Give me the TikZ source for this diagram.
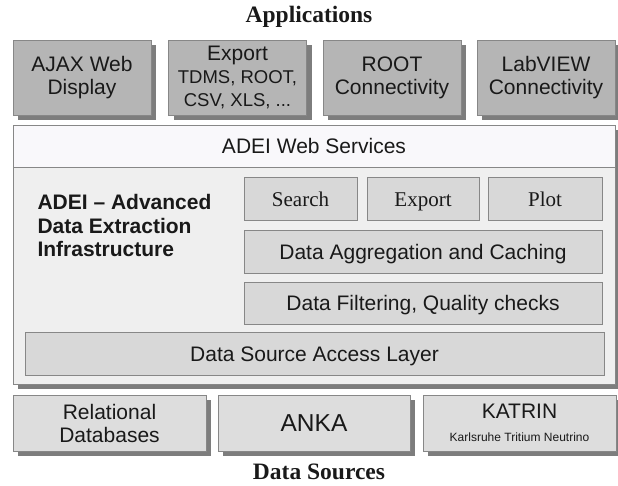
\documentclass[tikz,border=0pt]{standalone}
\usepackage{fontspec}
\setmainfont{Liberation Serif}
\setsansfont{Liberation Sans}
\usetikzlibrary{shadows}

\definecolor{appfill}{RGB}{181,181,181}
\definecolor{srcfill}{RGB}{221,221,221}
\definecolor{modfill}{RGB}{216,216,216}
\definecolor{panelfill}{RGB}{239,239,239}
\definecolor{bandfill}{RGB}{249,248,251}
\definecolor{boxedge}{RGB}{135,135,135}
\definecolor{shadowgray}{RGB}{125,125,125}
\definecolor{inkblack}{RGB}{25,25,25}

\tikzset{
    box/.style={draw=boxedge, inner sep=0pt, align=center, text=inkblack,
        font=\sffamily\fontsize{21}{23}\selectfont},
    shade5/.style={general shadow={fill=shadowgray, shadow xshift=5pt, shadow yshift=-5pt}},
    appbox/.style={box, shade5, fill=appfill, minimum width=138pt, minimum height=75pt},
    srcbox/.style={box, shade5, fill=srcfill, minimum width=193pt, minimum height=56pt},
    modbox/.style={box, fill=modfill, minimum height=43pt, text height=15pt, text depth=0pt},
    title/.style={inner sep=0pt, text=inkblack, font=\bfseries\fontsize{23.5}{26}\selectfont}
}

\begin{document}
\begin{tikzpicture}[x=1pt, y=-1pt]
    \useasboundingbox (0,0) rectangle (618,485);

    \node[title] (apps) at (309,17) {Applications};
    \node[appbox] (ajax) at (82,77.5) {AJAX Web\\Display};
    \node[appbox] (export) at (237.5,77.5) {Export\\{\fontsize{18.5}{21}\selectfont TDMS, ROOT,}\\{\fontsize{18.5}{21}\selectfont CSV, XLS, ...}};
    \node[appbox] (root) at (392,77.5) {ROOT\\Connectivity};
    \node[appbox] (labview) at (546,77.5) {LabVIEW\\Connectivity};

    \node[box, shade5, fill=panelfill, minimum width=602pt, minimum height=259pt] (adei) at (314,254.5) {};
    \node[box, fill=bandfill, minimum width=602pt, minimum height=42pt, text height=15pt, text depth=0pt] (websvc) at (314,146) {ADEI Web Services};
    \node[anchor=west, align=left, text=inkblack, font=\sffamily\bfseries\fontsize{21}{23.5}\selectfont] (adeitext) at (34,225.5) {ADEI -- Advanced\\Data Extraction\\Infrastructure};

    \node[modbox, minimum width=113pt, font=\rmfamily\fontsize{21}{23}\selectfont] (search) at (300.5,199) {Search};
    \node[modbox, minimum width=112pt, font=\rmfamily\fontsize{21}{23}\selectfont] (exportsvc) at (423,199) {Export};
    \node[modbox, minimum width=114pt, font=\rmfamily\fontsize{21}{23}\selectfont] (plot) at (545,199) {Plot};
    \node[modbox, minimum width=358pt] (aggr) at (423,251.5) {Data Aggregation and Caching};
    \node[modbox, minimum width=358pt, minimum height=42pt] (filter) at (423,303) {Data Filtering, Quality checks};
    \node[modbox, minimum width=579pt] (access) at (314.5,353.5) {Data Source Access Layer};

    \node[srcbox] (rdb) at (109.5,423) {Relational\\Databases};
    \node[srcbox, minimum width=192pt, font=\sffamily\fontsize{24.5}{27}\selectfont] (anka) at (314,423) {ANKA};
    \node[srcbox] (katrin) at (519.5,423) {KATRIN\\{\fontsize{12}{16}\selectfont Karlsruhe Tritium Neutrino}};
    \node[title] (sources) at (319,472) {Data Sources};
\end{tikzpicture}
\end{document}
